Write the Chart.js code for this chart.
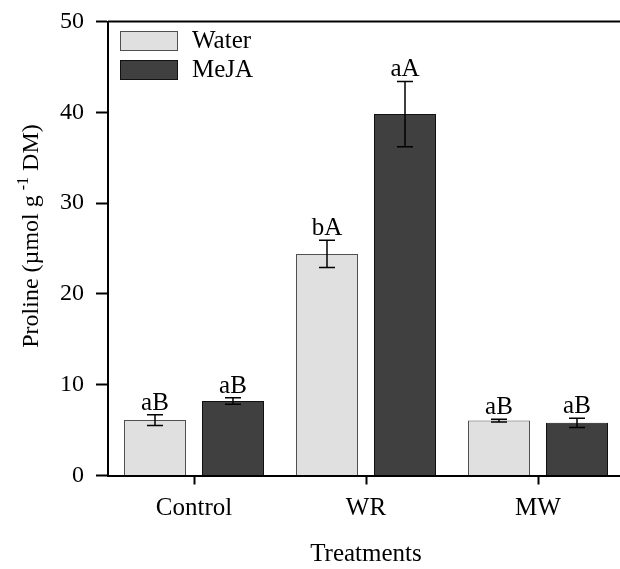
<!DOCTYPE html>
<html>
<head>
<meta charset="utf-8">
<script src="https://cdn.jsdelivr.net/npm/chart.js@4.4.1/dist/chart.umd.min.js"></script>
<style>
  html, body { margin: 0; padding: 0; overflow: hidden; background: #fff; }
  #wrap { width: 640px; height: 569px; }
</style>
</head>
<body>
<div id="wrap"><canvas id="c" width="640" height="569"></canvas></div>
<script>
// ---- data ----
const categories = ['Control', 'WR', 'MW'];
const seriesNames = ['Water', 'MeJA'];
const waterValues = [6.1, 24.4, 6.05];
const mejaValues = [8.2, 39.8, 5.8];
const waterErrors = [0.6, 1.5, 0.15];
const mejaErrors = [0.35, 3.6, 0.5];
const waterLetters = ['aB', 'bA', 'aB'];
const mejaLetters = ['aB', 'aA', 'aB'];
const yTickValues = [0, 10, 20, 30, 40, 50];
const xTitle = 'Treatments';
const yTitleMain = 'Proline (\u00b5mol g';
const yTitleSup = '-1';
const yTitleEnd = ' DM)';

const FONT = '"Liberation Serif", "Times New Roman", serif';
const waterFill = '#e0e0e0';
const waterBorder = '#505050';
const mejaFill = '#404040';
const mejaBorder = '#111111';

const errorsBySeries = [waterErrors, mejaErrors];
const lettersBySeries = [waterLetters, mejaLetters];

const errorBarPlugin = {
  id: 'errorBars',
  afterDatasetsDraw(chart) {
    const ctx = chart.ctx;
    const y = chart.scales.y;
    ctx.save();
    chart.data.datasets.forEach((ds, di) => {
      const meta = chart.getDatasetMeta(di);
      meta.data.forEach((bar, i) => {
        const v = ds.data[i];
        const e = errorsBySeries[di][i];
        const yTop = y.getPixelForValue(v + e);
        const yBot = y.getPixelForValue(v - e);
        const x = bar.x;
        ctx.strokeStyle = '#000';
        ctx.lineWidth = 1.5;
        ctx.beginPath();
        ctx.moveTo(x, yTop); ctx.lineTo(x, yBot);
        ctx.moveTo(x - 8, yTop); ctx.lineTo(x + 8, yTop);
        ctx.moveTo(x - 8, yBot); ctx.lineTo(x + 8, yBot);
        ctx.stroke();
        ctx.fillStyle = '#000';
        ctx.font = '25px ' + FONT;
        ctx.textAlign = 'center';
        ctx.textBaseline = 'alphabetic';
        ctx.fillText(lettersBySeries[di][i], x, yTop - 5);
      });
    });
    ctx.restore();
  }
};

const framePlugin = {
  id: 'frame',
  afterDraw(chart) {
    const ctx = chart.ctx;
    const a = chart.chartArea;
    ctx.save();
    ctx.strokeStyle = '#000';
    ctx.lineWidth = 2;
    ctx.beginPath();
    ctx.moveTo(a.left, a.top);
    ctx.lineTo(chart.width, a.top);
    ctx.stroke();
    ctx.restore();
  }
};

const legendPlugin = {
  id: 'customLegend',
  afterDraw(chart) {
    const ctx = chart.ctx;
    ctx.save();
    const boxes = [{y: 31}, {y: 60}];
    chart.data.datasets.forEach((ds, i) => {
      const by = boxes[i].y;
      ctx.fillStyle = ds.backgroundColor;
      ctx.fillRect(120, by, 57, 19);
      ctx.strokeStyle = ds.borderColor;
      ctx.lineWidth = 1;
      ctx.strokeRect(120.5, by + 0.5, 57, 19);
      ctx.fillStyle = '#000';
      ctx.font = '25px ' + FONT;
      ctx.textAlign = 'left';
      ctx.textBaseline = 'middle';
      ctx.fillText(ds.label, 192, by + 10);
    });
    ctx.restore();
  }
};

const yTitlePlugin = {
  id: 'yTitle',
  afterDraw(chart) {
    const ctx = chart.ctx;
    ctx.save();
    ctx.translate(38, 236);
    ctx.rotate(-Math.PI / 2);
    ctx.fillStyle = '#000';
    ctx.textBaseline = 'alphabetic';
    ctx.textAlign = 'left';
    const mainFont = '24px ' + FONT;
    const supFont = '16px ' + FONT;
    ctx.font = mainFont;
    const w1 = ctx.measureText(yTitleMain).width;
    const w3 = ctx.measureText(yTitleEnd).width;
    ctx.font = supFont;
    const gap = 5;
    const w2 = ctx.measureText(yTitleSup).width + gap;
    let x = -(w1 + w2 + w3) / 2;
    ctx.font = mainFont;
    ctx.fillText(yTitleMain, x, 0);
    x += w1 + gap;
    ctx.font = supFont;
    ctx.fillText(yTitleSup, x, -10);
    x += w2 - gap;
    ctx.font = mainFont;
    ctx.fillText(yTitleEnd, x, 0);
    ctx.restore();
  }
};

new Chart(document.getElementById('c'), {
  type: 'bar',
  data: {
    labels: categories,
    datasets: [
      { label: seriesNames[0], data: waterValues, backgroundColor: waterFill, borderColor: waterBorder, borderWidth: 1 },
      { label: seriesNames[1], data: mejaValues, backgroundColor: mejaFill, borderColor: mejaBorder, borderWidth: 1 }
    ]
  },
  options: {
    responsive: false,
    devicePixelRatio: 1,
    animation: false,
    categoryPercentage: 0.907,
    barPercentage: 0.795,
    layout: { padding: { top: 21.5, right: 16, bottom: 0, left: 0 } },
    plugins: {
      legend: { display: false },
      tooltip: { enabled: false },
      title: { display: false }
    },
    scales: {
      x: {
        offset: true,
        grid: { display: true, drawOnChartArea: false, drawTicks: true, tickLength: 9, tickWidth: 2, tickColor: '#000', offset: false },
        border: { display: true, color: '#000', width: 2 },
        ticks: { color: '#000', font: { family: FONT, size: 25 }, padding: 9 },
        title: { display: true, text: xTitle, color: '#000', font: { family: FONT, size: 25 }, padding: { top: 0, bottom: 0 } },
        afterFit(scale) { scale.height = 93.5; scale.paddingLeft = 0; scale.paddingRight = 0; }
      },
      y: {
        min: 0, max: 50,
        afterBuildTicks(scale) { scale.ticks = yTickValues.map(v => ({ value: v })); },
        grid: { display: true, drawOnChartArea: false, drawTicks: true, tickLength: 12, tickWidth: 2, tickColor: '#000' },
        border: { display: true, color: '#000', width: 2 },
        ticks: { color: '#000', font: { family: FONT, size: 24 }, padding: 12 },
        afterFit(scale) { scale.width = 108; scale.paddingTop = 0; scale.paddingBottom = 0; }
      }
    }
  },
  plugins: [errorBarPlugin, framePlugin, legendPlugin, yTitlePlugin]
});
</script>
</body>
</html>
